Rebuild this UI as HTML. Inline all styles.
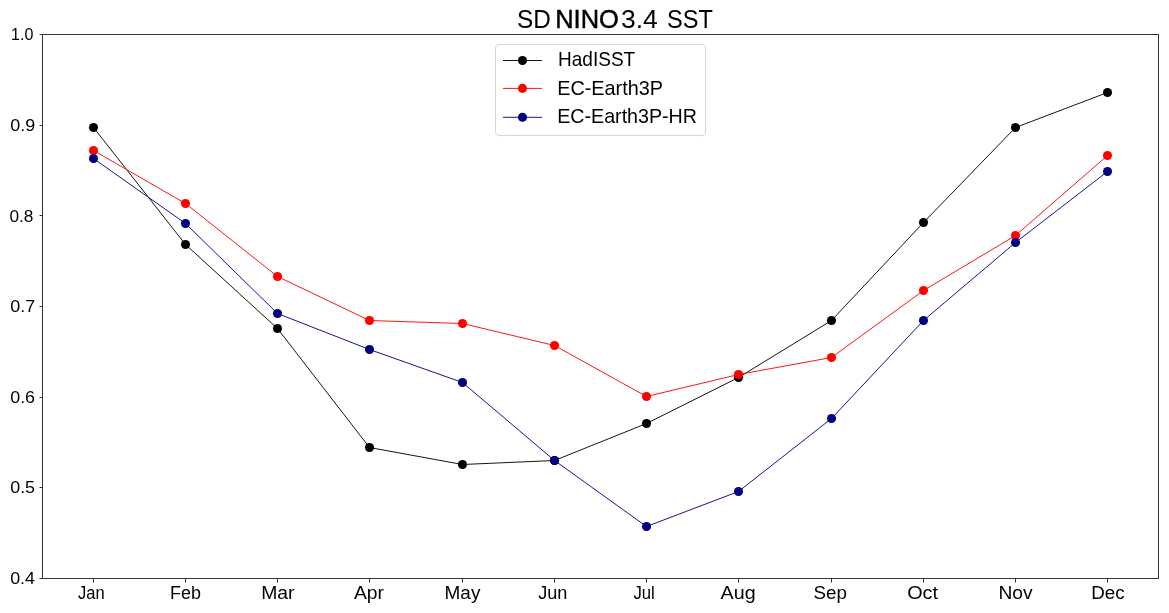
<!DOCTYPE html><html><head><meta charset="utf-8"><style>html,body{margin:0;padding:0;background:#fff;width:1169px;height:613px;overflow:hidden}svg{display:block}text{font-family:"Liberation Sans",sans-serif;fill:#000}</style></head><body>
<svg width="1169" height="613" viewBox="0 0 1169 613">
<rect width="1169" height="613" fill="#fff"/>
<g style="filter:grayscale(1)">
<text x="11.00" y="39.50" font-size="16.30" textLength="22.32" lengthAdjust="spacingAndGlyphs">1.0</text>
<text x="10.20" y="130.50" font-size="16.30" textLength="24.92" lengthAdjust="spacingAndGlyphs">0.9</text>
<text x="9.40" y="221.50" font-size="16.30" textLength="24.00" lengthAdjust="spacingAndGlyphs">0.8</text>
<text x="10.20" y="311.50" font-size="16.30" textLength="24.92" lengthAdjust="spacingAndGlyphs">0.7</text>
<text x="10.20" y="402.50" font-size="16.30" textLength="24.87" lengthAdjust="spacingAndGlyphs">0.6</text>
<text x="10.20" y="492.50" font-size="16.30" textLength="24.87" lengthAdjust="spacingAndGlyphs">0.5</text>
<text x="10.20" y="583.50" font-size="16.30" textLength="24.83" lengthAdjust="spacingAndGlyphs">0.4</text>
<text x="78.00" y="599.00" font-size="18.30" textLength="26.69" lengthAdjust="spacingAndGlyphs">Jan</text>
<text x="170.00" y="599.00" font-size="18.30" textLength="30.86" lengthAdjust="spacingAndGlyphs">Feb</text>
<text x="261.20" y="599.00" font-size="18.30" textLength="33.33" lengthAdjust="spacingAndGlyphs">Mar</text>
<text x="354.00" y="599.00" font-size="18.30" textLength="30.01" lengthAdjust="spacingAndGlyphs">Apr</text>
<text x="444.60" y="599.00" font-size="18.30" textLength="35.79" lengthAdjust="spacingAndGlyphs">May</text>
<text x="538.20" y="599.00" font-size="18.30" textLength="29.18" lengthAdjust="spacingAndGlyphs">Jun</text>
<text x="633.40" y="599.00" font-size="18.30" textLength="21.40" lengthAdjust="spacingAndGlyphs">Jul</text>
<text x="720.60" y="599.00" font-size="18.30" textLength="34.97" lengthAdjust="spacingAndGlyphs">Aug</text>
<text x="813.60" y="599.00" font-size="18.30" textLength="33.43" lengthAdjust="spacingAndGlyphs">Sep</text>
<text x="907.20" y="599.00" font-size="18.30" textLength="30.84" lengthAdjust="spacingAndGlyphs">Oct</text>
<text x="998.40" y="599.00" font-size="18.30" textLength="34.14" lengthAdjust="spacingAndGlyphs">Nov</text>
<text x="1091.20" y="599.00" font-size="18.30" textLength="33.36" lengthAdjust="spacingAndGlyphs">Dec</text>
<text x="517.00" y="27.60" font-size="25.00" textLength="33.85" lengthAdjust="spacingAndGlyphs">SD</text>
<text x="555.20" y="28.00" font-size="26.00" textLength="63.68" lengthAdjust="spacingAndGlyphs" stroke="#000" stroke-width="0.45">NINO</text>
<text x="621.00" y="27.60" font-size="25.00" textLength="36.85" lengthAdjust="spacingAndGlyphs">3.4</text>
<text x="667.00" y="27.60" font-size="25.00" textLength="45.84" lengthAdjust="spacingAndGlyphs">SST</text>
</g>
<g shape-rendering="crispEdges" stroke="#333333" stroke-width="1" fill="none">
<rect x="42.5" y="34.5" width="1116" height="544"/>
</g>
<rect x="39.5" y="34" width="3" height="1" fill="#333333"/>
<rect x="39.5" y="125" width="3" height="1" fill="#333333"/>
<rect x="39.5" y="215" width="3" height="1" fill="#333333"/>
<rect x="39.5" y="306" width="3" height="1" fill="#333333"/>
<rect x="39.5" y="397" width="3" height="1" fill="#333333"/>
<rect x="39.5" y="487" width="3" height="1" fill="#333333"/>
<rect x="39.5" y="578" width="3" height="1" fill="#333333"/>
<rect x="93" y="579" width="1" height="3.5" fill="#333333"/>
<rect x="185" y="579" width="1" height="3.5" fill="#333333"/>
<rect x="277" y="579" width="1" height="3.5" fill="#333333"/>
<rect x="369" y="579" width="1" height="3.5" fill="#333333"/>
<rect x="462" y="579" width="1" height="3.5" fill="#333333"/>
<rect x="554" y="579" width="1" height="3.5" fill="#333333"/>
<rect x="646" y="579" width="1" height="3.5" fill="#333333"/>
<rect x="738" y="579" width="1" height="3.5" fill="#333333"/>
<rect x="831" y="579" width="1" height="3.5" fill="#333333"/>
<rect x="923" y="579" width="1" height="3.5" fill="#333333"/>
<rect x="1015" y="579" width="1" height="3.5" fill="#333333"/>
<rect x="1107" y="579" width="1" height="3.5" fill="#333333"/>
<polyline points="93.5,127.5 185.5,244.5 277.5,328.5 369.5,447.5 462.5,464.5 554.5,460.5 646.5,423.5 738.5,377.5 831.5,320.5 923.5,222.5 1015.5,127.5 1107.5,92.5" fill="none" stroke="#000000" stroke-width="0.92"/>
<circle cx="93.5" cy="127.5" r="4.55" fill="#000000"/>
<circle cx="185.5" cy="244.5" r="4.55" fill="#000000"/>
<circle cx="277.5" cy="328.5" r="4.55" fill="#000000"/>
<circle cx="369.5" cy="447.5" r="4.55" fill="#000000"/>
<circle cx="462.5" cy="464.5" r="4.55" fill="#000000"/>
<circle cx="554.5" cy="460.5" r="4.55" fill="#000000"/>
<circle cx="646.5" cy="423.5" r="4.55" fill="#000000"/>
<circle cx="738.5" cy="377.5" r="4.55" fill="#000000"/>
<circle cx="831.5" cy="320.5" r="4.55" fill="#000000"/>
<circle cx="923.5" cy="222.5" r="4.55" fill="#000000"/>
<circle cx="1015.5" cy="127.5" r="4.55" fill="#000000"/>
<circle cx="1107.5" cy="92.5" r="4.55" fill="#000000"/>
<polyline points="93.5,150.5 185.5,203.5 277.5,276.5 369.5,320.5 462.5,323.5 554.5,345.5 646.5,396.5 738.5,374.5 831.5,357.5 923.5,290.5 1015.5,235.5 1107.5,155.5" fill="none" stroke="#ff0000" stroke-width="0.92"/>
<circle cx="93.5" cy="150.5" r="4.55" fill="#ff0000"/>
<circle cx="185.5" cy="203.5" r="4.55" fill="#ff0000"/>
<circle cx="277.5" cy="276.5" r="4.55" fill="#ff0000"/>
<circle cx="369.5" cy="320.5" r="4.55" fill="#ff0000"/>
<circle cx="462.5" cy="323.5" r="4.55" fill="#ff0000"/>
<circle cx="554.5" cy="345.5" r="4.55" fill="#ff0000"/>
<circle cx="646.5" cy="396.5" r="4.55" fill="#ff0000"/>
<circle cx="738.5" cy="374.5" r="4.55" fill="#ff0000"/>
<circle cx="831.5" cy="357.5" r="4.55" fill="#ff0000"/>
<circle cx="923.5" cy="290.5" r="4.55" fill="#ff0000"/>
<circle cx="1015.5" cy="235.5" r="4.55" fill="#ff0000"/>
<circle cx="1107.5" cy="155.5" r="4.55" fill="#ff0000"/>
<polyline points="93.5,158.5 185.5,223.5 277.5,313.5 369.5,349.5 462.5,382.5 554.5,460.5 646.5,526.5 738.5,491.5 831.5,418.5 923.5,320.5 1015.5,242.5 1107.5,171.5" fill="none" stroke="#000080" stroke-width="0.92"/>
<circle cx="93.5" cy="158.5" r="4.55" fill="#000080"/>
<circle cx="185.5" cy="223.5" r="4.55" fill="#000080"/>
<circle cx="277.5" cy="313.5" r="4.55" fill="#000080"/>
<circle cx="369.5" cy="349.5" r="4.55" fill="#000080"/>
<circle cx="462.5" cy="382.5" r="4.55" fill="#000080"/>
<circle cx="554.5" cy="460.5" r="4.55" fill="#000080"/>
<circle cx="646.5" cy="526.5" r="4.55" fill="#000080"/>
<circle cx="738.5" cy="491.5" r="4.55" fill="#000080"/>
<circle cx="831.5" cy="418.5" r="4.55" fill="#000080"/>
<circle cx="923.5" cy="320.5" r="4.55" fill="#000080"/>
<circle cx="1015.5" cy="242.5" r="4.55" fill="#000080"/>
<circle cx="1107.5" cy="171.5" r="4.55" fill="#000080"/>
<rect x="495.5" y="44.5" width="210" height="91" rx="3.6" ry="3.6" fill="#fff" stroke="#d6d6d6" stroke-width="1"/>
<line x1="503" y1="60.5" x2="542" y2="60.5" stroke="#000000" stroke-width="0.92"/>
<circle cx="522.5" cy="60.5" r="4.55" fill="#000000"/>
<line x1="503" y1="88.4" x2="542" y2="88.4" stroke="#ff0000" stroke-width="0.92"/>
<circle cx="522.5" cy="88.4" r="4.55" fill="#ff0000"/>
<line x1="503" y1="117.3" x2="542" y2="117.3" stroke="#000080" stroke-width="0.92"/>
<circle cx="522.5" cy="117.3" r="4.55" fill="#000080"/>
<g style="filter:grayscale(1)">
<text x="558.00" y="66.00" font-size="19.35" textLength="77.19" lengthAdjust="spacingAndGlyphs">HadISST</text>
<text x="557.20" y="95.00" font-size="19.35" textLength="105.82" lengthAdjust="spacingAndGlyphs">EC-Earth3P</text>
<text x="557.20" y="123.00" font-size="19.35" textLength="139.82" lengthAdjust="spacingAndGlyphs">EC-Earth3P-HR</text>
</g>
</svg></body></html>
